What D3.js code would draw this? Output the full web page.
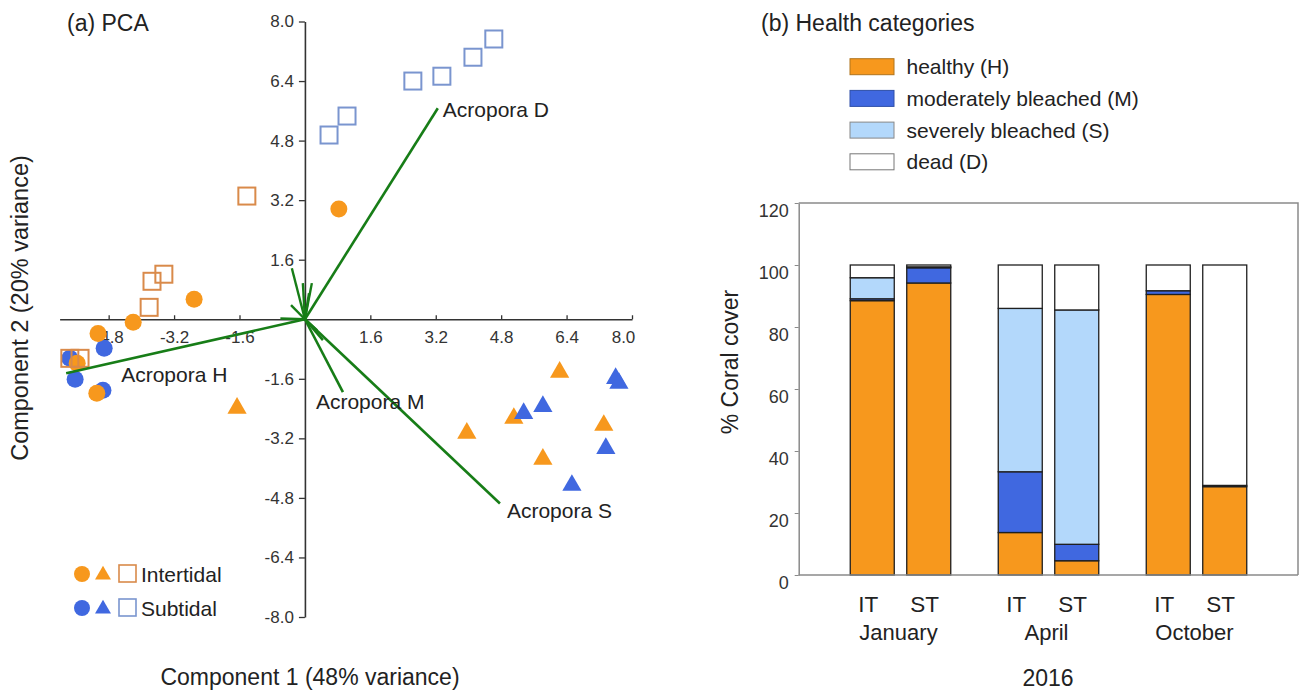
<!DOCTYPE html>
<html>
<head>
<meta charset="utf-8">
<script src="https://cdn.jsdelivr.net/npm/d3@7"></script>
<style>
  body { margin: 0; background: #fff; }
  svg { font-family: "Liberation Sans", Arial, sans-serif; }
</style>
</head>
<body>
<div id="chart"></div>
<script>
// PCA data (component 1, component 2)
var intCircles = [[0.83, 2.96], [-2.71, 0.54], [-4.2, -0.08], [-5.06, -0.38], [-5.57, -1.18], [-5.09, -1.99]];
var subCircles = [[-4.91, -0.78], [-5.75, -1.05], [-5.62, -1.61], [-4.94, -1.91]];
var intTriangles = [[-1.66, -2.39], [6.23, -1.42], [5.11, -2.66], [3.96, -3.06], [7.31, -2.85], [5.82, -3.76]];
var subTriangles = [[5.35, -2.53], [5.82, -2.34], [7.60, -1.59], [7.68, -1.72], [7.36, -3.47], [6.53, -4.46]];
var intSquares = [[-1.42, 3.31], [-3.45, 1.21], [-3.74, 1.02], [-3.81, 0.32], [-5.75, -1.05], [-5.5, -1.05]];
var subSquares = [[0.59, 4.95], [1.03, 5.46], [2.64, 6.40], [3.35, 6.53], [4.11, 7.04], [4.62, 7.53]];

// loading vectors
var vectorNames = ["Acropora D", "Acropora H", "Acropora M", "Acropora S"];
var vectorEnds = [[3.25, 5.67], [-5.84, -1.45], [0.93, -1.96], [4.77, -4.95]];
var minorVectors = [[-0.32, 1.37], [-0.05, 0.97], [0.17, 0.97], [0.1, 0.7], [-0.34, 0.38], [-0.6, 0.02], [0.44, -0.56], [0.3, -0.3]];

var pcaXTicks = [-4.8, -3.2, -1.6, 1.6, 3.2, 4.8, 6.4, 8.0];
var pcaYTicks = [8.0, 6.4, 4.8, 3.2, 1.6, -1.6, -3.2, -4.8, -6.4, -8.0];

// Bar chart data
var months = ["January", "April", "October"];
var sites = ["IT", "ST"];
var categories = ["healthy (H)", "moderately bleached (M)", "severely bleached (S)", "dead (D)"];
var healthy = [88.5, 94.2, 13.7, 4.6, 90.5, 28.5];
var moderate = [0.6, 4.9, 19.6, 5.3, 1.2, 0.4];
var severe = [6.8, 0.3, 52.7, 75.6, 0, 0];
var dead = [4.1, 0.6, 14.0, 14.5, 8.3, 71.1];
var coverTicks = [0, 20, 40, 60, 80, 100, 120];

var width = 1300, height = 694;
var orange = "#f7981d", blue = "#4068e0";
var font = "Liberation Sans, Arial, sans-serif";
var fmt1 = function(d) { return d.toFixed(1); };

var svg = d3.select("#chart").append("svg")
  .attr("width", width)
  .attr("height", height);
svg.append("rect").attr("width", width).attr("height", height).attr("fill", "#fff");

// ==================== (a) PCA ====================
var xScale = d3.scaleLinear().domain([-6, 8]).range([59.6, 632]);
var yScale = d3.scaleLinear().domain([-8, 8]).range([617, 21.5]);

svg.append("text").attr("x", 67).attr("y", 31).attr("font-size", 23).attr("fill", "#222").text("(a) PCA");

var yAx = svg.append("g")
  .attr("transform", "translate(" + xScale(0) + ",0)")
  .call(d3.axisLeft(yScale).tickValues(pcaYTicks).tickFormat(fmt1).tickSize(6).tickSizeOuter(0));
var xAx = svg.append("g")
  .attr("transform", "translate(0," + yScale(0) + ")")
  .call(d3.axisBottom(xScale).tickValues(pcaXTicks).tickFormat(fmt1).tickSize(-4).tickSizeOuter(0));
[xAx, yAx].forEach(function(g) {
  g.select(".domain").attr("stroke", "#333").attr("stroke-width", 1.6);
  g.selectAll(".tick line").attr("stroke", "#333").attr("stroke-width", 1.3);
  g.selectAll(".tick text").attr("font-size", 17).attr("fill", "#333").attr("font-family", font);
});
yAx.selectAll(".tick text").attr("dx", -2);
xAx.selectAll(".tick text").attr("dy", "1.24em");
xAx.selectAll(".tick").filter(function(d) { return d === 8.0; }).select("text").attr("dx", -9);

// points
var sqSize = 17;
function drawCircles(data, color) {
  svg.append("g").selectAll("circle").data(data).enter().append("circle")
    .attr("cx", function(d) { return xScale(d[0]); })
    .attr("cy", function(d) { return yScale(d[1]); })
    .attr("r", 8.5)
    .attr("fill", color);
}
function drawSquares(data, color) {
  svg.append("g").selectAll("rect").data(data).enter().append("rect")
    .attr("x", function(d) { return xScale(d[0]) - sqSize / 2; })
    .attr("y", function(d) { return yScale(d[1]) - sqSize / 2; })
    .attr("width", sqSize).attr("height", sqSize)
    .attr("fill", "none").attr("stroke", color).attr("stroke-width", 2);
}
var tri = d3.symbol().type(d3.symbolTriangle).size(160);
function drawTriangles(data, color) {
  svg.append("g").selectAll("path").data(data).enter().append("path")
    .attr("d", tri)
    .attr("transform", function(d) { return "translate(" + xScale(d[0]) + "," + yScale(d[1]) + ")"; })
    .attr("fill", color);
}
drawCircles(subCircles, blue);
drawCircles(intCircles, orange);
drawSquares(intSquares, "#d98a4a");
drawSquares(subSquares, "#7a95cf");
drawTriangles(intTriangles, orange);
drawTriangles(subTriangles, blue);

// vectors
var green = "#177d17";
var vecs = svg.append("g");
vecs.selectAll("line.minor").data(minorVectors).enter().append("line")
  .attr("x1", xScale(0)).attr("y1", yScale(0))
  .attr("x2", function(d) { return xScale(d[0]); })
  .attr("y2", function(d) { return yScale(d[1]); })
  .attr("stroke", green).attr("stroke-width", 2.4);
vecs.selectAll("line.major").data(vectorEnds).enter().append("line")
  .attr("x1", xScale(0)).attr("y1", yScale(0))
  .attr("x2", function(d) { return xScale(d[0]); })
  .attr("y2", function(d) { return yScale(d[1]); })
  .attr("stroke", green).attr("stroke-width", 2.6);

// label offsets relative to vector tip
var labelOffset = [[5, 9], [55, 9], [-27, 17], [7, 15]];
vecs.selectAll("text").data(vectorEnds).enter().append("text")
  .attr("x", function(d, i) { return xScale(d[0]) + labelOffset[i][0]; })
  .attr("y", function(d, i) { return yScale(d[1]) + labelOffset[i][1]; })
  .attr("font-size", 21).attr("fill", "#222")
  .text(function(d, i) { return vectorNames[i]; });

// axis titles
svg.append("text")
  .attr("transform", "translate(28,308) rotate(-90)")
  .attr("text-anchor", "middle").attr("font-size", 23.5).attr("fill", "#222")
  .text("Component 2 (20% variance)");
svg.append("text")
  .attr("x", 310).attr("y", 685)
  .attr("text-anchor", "middle").attr("font-size", 23).attr("fill", "#222")
  .text("Component 1 (48% variance)");

// legend
var legRows = [{ label: "Intertidal", color: orange, sq: "#d98a4a", y: 574 },
               { label: "Subtidal", color: blue, sq: "#7a95cf", y: 608 }];
var leg = svg.append("g");
legRows.forEach(function(r) {
  leg.append("circle").attr("cx", 82).attr("cy", r.y).attr("r", 8).attr("fill", r.color);
  leg.append("path").attr("d", d3.symbol().type(d3.symbolTriangle).size(110))
    .attr("transform", "translate(103," + (r.y + 1) + ")").attr("fill", r.color);
  leg.append("rect").attr("x", 119).attr("y", r.y - 9).attr("width", 17).attr("height", 17)
    .attr("fill", "none").attr("stroke", r.sq).attr("stroke-width", 1.6);
  leg.append("text").attr("x", 141).attr("y", r.y + 7.5).attr("font-size", 21).attr("fill", "#222").text(r.label);
});

// ==================== (b) Health categories ====================
svg.append("text").attr("x", 761).attr("y", 31).attr("font-size", 23).attr("fill", "#222").text("(b) Health categories");

var catColors = [orange, blue, "#b3d8fb", "#ffffff"];
var swStroke = ["#b0741c", "#2e4fa8", "#888", "#777"];
var catLeg = svg.append("g");
categories.forEach(function(c, i) {
  var cy = 66.7 + i * 31.7;
  catLeg.append("rect").attr("x", 850).attr("y", cy - 8).attr("width", 44).attr("height", 16)
    .attr("fill", catColors[i]).attr("stroke", swStroke[i]).attr("stroke-width", 1);
  catLeg.append("text").attr("x", 906.5).attr("y", cy + 7.5).attr("font-size", 21).attr("fill", "#222").text(c);
});

var plotL = 798.7, plotR = 1298, plotT = 203, plotB = 575;
var yBar = d3.scaleLinear().domain([0, 120]).range([plotB, plotT]);
var x0 = d3.scaleBand().domain(months).range([826.5, 1270.5]);
var x1 = d3.scaleBand().domain(sites).range([23.75, 124.25]).paddingInner(0.221);

// stacked rows
var rows = [];
months.forEach(function(m, mi) {
  sites.forEach(function(s, si) {
    var k = mi * 2 + si;
    rows.push({ month: m, site: s, H: healthy[k], M: moderate[k], S: severe[k], D: dead[k] });
  });
});
var keys = ["H", "M", "S", "D"];
var stacked = d3.stack().keys(keys)(rows);

// frame
svg.append("path")
  .attr("d", "M" + plotL + "," + plotT + "H" + plotR + "V" + plotB)
  .attr("fill", "none").attr("stroke", "#8a8a8a").attr("stroke-width", 1.5);

var bars = svg.append("g");
stacked.forEach(function(layer, li) {
  bars.append("g").selectAll("rect").data(layer).enter().append("rect")
    .attr("x", function(d) { return x0(d.data.month) + x1(d.data.site); })
    .attr("y", function(d) { return yBar(d[1]); })
    .attr("width", x1.bandwidth())
    .attr("height", function(d) { return yBar(d[0]) - yBar(d[1]); })
    .attr("fill", catColors[li])
    .attr("stroke", "#1f1f1f").attr("stroke-width", 1.3);
});

var yBarAx = svg.append("g")
  .attr("transform", "translate(" + plotL + ",0)")
  .call(d3.axisLeft(yBar).tickValues(coverTicks).tickSize(4).tickSizeOuter(0));
yBarAx.select(".domain").attr("stroke", "#8a8a8a").attr("stroke-width", 1.5);
yBarAx.selectAll(".tick line").attr("stroke", "#8a8a8a");
yBarAx.selectAll(".tick text").attr("font-size", 18).attr("fill", "#333")
  .attr("font-family", font)
  .attr("dx", -3).attr("dy", "0.76em");

svg.append("line").attr("x1", plotL).attr("x2", plotR).attr("y1", plotB).attr("y2", plotB)
  .attr("stroke", "#8a8a8a").attr("stroke-width", 1.5);

// x labels
var xl = svg.append("g");
rows.forEach(function(r) {
  xl.append("text")
    .attr("x", x0(r.month) + x1(r.site) + x1.bandwidth() / 2 - 4)
    .attr("y", 612).attr("text-anchor", "middle").attr("font-size", 22.5).attr("fill", "#222")
    .text(r.site);
});
months.forEach(function(m) {
  xl.append("text")
    .attr("x", x0(m) + x0.bandwidth() / 2 - 2)
    .attr("y", 640).attr("text-anchor", "middle").attr("font-size", 22).attr("fill", "#222")
    .text(m);
});
svg.append("text").attr("x", 1048).attr("y", 686).attr("text-anchor", "middle")
  .attr("font-size", 23).attr("fill", "#222").text("2016");

svg.append("text")
  .attr("transform", "translate(738,362) rotate(-90)")
  .attr("text-anchor", "middle").attr("font-size", 23).attr("fill", "#222")
  .text("% Coral cover");
</script>
</body>
</html>
